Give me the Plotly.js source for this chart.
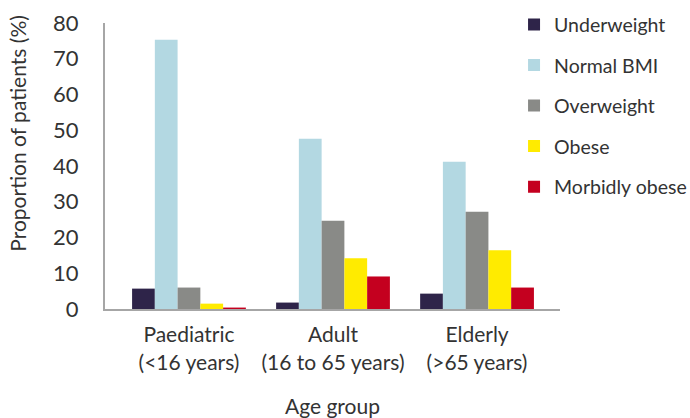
<!DOCTYPE html>
<html>
<head>
<meta charset="utf-8">
<script src="https://cdn.plot.ly/plotly-3.0.1.min.js"></script>
<style>html,body{margin:0;padding:0;background:#fff;}#chart{width:690px;height:418px;}</style>
</head>
<body>
<div id="chart"></div>
<script>
var categories = ["Paediatric<br>(<16 years)", "Adult<br>(16 to 65 years)", "Elderly<br>(>65 years)"];
var seriesNames = ["Underweight", "Normal BMI", "Overweight", "Obese", "Morbidly obese"];
var underweight = [5.7, 1.8, 4.3];
var normalBMI = [75.3, 47.6, 41.2];
var overweight = [6.0, 24.7, 27.2];
var obese = [1.5, 14.2, 16.4];
var morbidlyObese = [0.4, 9.1, 6.0];
var yTicks = [0, 10, 20, 30, 40, 50, 60, 70, 80];

var seriesValues = [underweight, normalBMI, overweight, obese, morbidlyObese];
var colors = ["#2e2449", "#b3d8e2", "#898a87", "#ffeb00", "#c4001f"];
var font = "Lato, 'Open Sans', sans-serif";

var traces = seriesNames.map(function (name, i) {
  return {
    type: "bar",
    name: name,
    x: [0, 1, 2],
    y: seriesValues[i],
    marker: {color: colors[i], line: {width: 0}},
    legendgroup: "g" + i,
    hoverinfo: "y"
  };
});

var layout = {
  width: 690,
  height: 418,
  margin: {l: 105, r: 130, t: 23, b: 109, autoexpand: false},
  barmode: "group",
  bargap: 0.21,
  bargroupgap: 0,
  paper_bgcolor: "#fff",
  plot_bgcolor: "#fff",
  font: {family: font, color: "#333", size: 18},
  xaxis: {
    range: [-0.583, 2.576],
    tickvals: [0, 1, 2],
    ticktext: categories,
    showline: true,
    linecolor: "#a6a6a6",
    linewidth: 2,
    showgrid: false,
    zeroline: false,
    ticks: "",
    ticklabelstandoff: 6,
    tickfont: {size: 21, color: "#333"},
    title: {text: "Age group", font: {size: 21, color: "#333"}, standoff: 28}
  },
  yaxis: {
    range: [0, 80],
    tickvals: yTicks,
    showline: true,
    linecolor: "#a6a6a6",
    linewidth: 2,
    showgrid: false,
    zeroline: false,
    ticks: "",
    ticklabelstandoff: 20,
    tickfont: {size: 22, color: "#333"}
  },
  annotations: [{
    text: "Proportion of patients (%)",
    xref: "paper", yref: "paper",
    x: -0.193, y: 0.6136,
    xanchor: "center", yanchor: "middle",
    textangle: -90,
    showarrow: false,
    font: {size: 21, color: "#333", family: font}
  }],
  showlegend: true,
  legend: {
    x: 0.899,
    xanchor: "left",
    y: 1.062,
    yanchor: "top",
    traceorder: "grouped",
    tracegroupgap: 12.2,
    font: {size: 19.5, color: "#333"},
    itemwidth: 30,
    bgcolor: "rgba(0,0,0,0)"
  }
};

Plotly.newPlot("chart", traces, layout, {displayModeBar: false, staticPlot: true});
</script>
</body>
</html>
